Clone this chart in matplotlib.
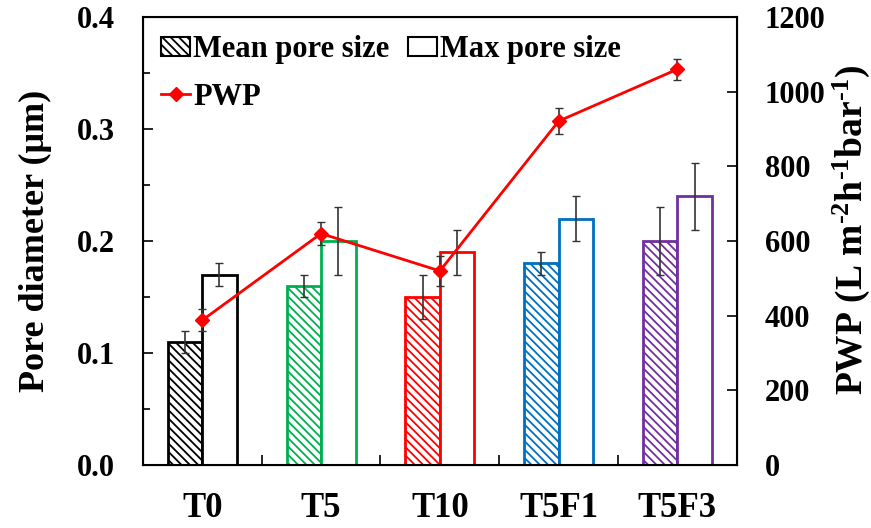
import numpy as np
import matplotlib
matplotlib.use("Agg")
import matplotlib.pyplot as plt
from matplotlib.patches import Patch
from matplotlib.lines import Line2D
from matplotlib.ticker import MultipleLocator, FormatStrFormatter

plt.rcParams['font.family'] = ['Liberation Serif', 'DejaVu Serif']
plt.rcParams['font.weight'] = 'bold'
plt.rcParams['axes.labelweight'] = 'bold'
plt.rcParams['hatch.linewidth'] = 1.3
plt.rcParams['mathtext.fontset'] = 'custom'
plt.rcParams['mathtext.rm'] = 'Liberation Serif:bold'
plt.rcParams['mathtext.bf'] = 'Liberation Serif:bold'
plt.rcParams['mathtext.default'] = 'bf'

samples = ['T0', 'T5', 'T10', 'T5F1', 'T5F3']
colors = ['#000000', '#00b050', '#ff0000', '#0070c0', '#7030a0']
mean_size = [0.11, 0.16, 0.15, 0.18, 0.20]
mean_err = [0.01, 0.01, 0.02, 0.01, 0.03]
max_size = [0.17, 0.20, 0.19, 0.22, 0.24]
max_err = [0.01, 0.03, 0.02, 0.02, 0.03]
pwp = [388, 620, 520, 921, 1060]
pwp_err = [30, 30, 40, 35, 28]

fig = plt.figure(figsize=(8.71, 5.28), dpi=100)
ax = fig.add_axes([0.164, 0.119, 0.682, 0.849])
x = np.arange(len(samples))
w = 0.29

ax.bar(x - w/2, mean_size, w, facecolor='white', edgecolor=colors, hatch='\\\\\\\\', linewidth=2)
ax.bar(x + w/2, max_size, w, facecolor='white', edgecolor=colors, linewidth=2)
ax.errorbar(x - w/2, mean_size, yerr=mean_err, fmt='none', ecolor='#333333', elinewidth=1.2, capsize=3)
ax.errorbar(x + w/2, max_size, yerr=max_err, fmt='none', ecolor='#333333', elinewidth=1.2, capsize=3)

ax.set_xlim(-0.5, 4.5)
ax.set_ylim(0, 0.4)
ax.yaxis.set_major_locator(MultipleLocator(0.1))
ax.yaxis.set_minor_locator(MultipleLocator(0.05))
ax.yaxis.set_major_formatter(FormatStrFormatter('%.1f'))
ax.set_xticks(x + 0.5, minor=False)
ax.set_xticklabels([])
ax.set_xticks(x, minor=True)
ax.set_xticklabels(samples, minor=True, fontsize=25)
ax.tick_params(axis='x', which='minor', length=0, pad=19)
ax.tick_params(axis='x', which='major', direction='in', length=7, width=1.2)
ax.tick_params(axis='y', which='major', direction='in', length=7, width=1.2, labelsize=22, pad=20)
ax.tick_params(axis='y', which='minor', direction='in', length=5, width=1.2)
ax.set_ylabel('Pore diameter (μm)', fontsize=26, labelpad=18)
for s in ax.spines.values():
    s.set_linewidth(1.5)

ax2 = ax.twinx()
ax2.errorbar(x, pwp, yerr=pwp_err, fmt='none', ecolor='#333333', elinewidth=1.2, capsize=3, zorder=2)
ax2.plot(x, pwp, color='#ff0000', lw=2, marker='D', markersize=7, zorder=3)
ax2.set_ylim(0, 1200)
ax2.yaxis.set_major_locator(MultipleLocator(200))
ax2.tick_params(axis='y', direction='in', length=7, width=1.2, labelsize=22, pad=20)
ax2.set_ylabel('PWP (L m$^{\\text{-}2}$h$^{\\text{-}1}$bar$^{\\text{-}1}$)', fontsize=27, labelpad=4)
ax2.yaxis.label.set_y(0.525)

handles = [Patch(facecolor='white', edgecolor='black', hatch='\\\\\\\\', lw=1.5),
           Line2D([], [], color='#ff0000', lw=2, marker='D', markersize=7),
           Patch(facecolor='white', edgecolor='black', lw=1.5)]
labels = ['Mean pore size', 'PWP', 'Max pore size']
ax.legend(handles, labels, ncol=2, loc='upper left', frameon=False, fontsize=22,
          handlelength=0.95, handleheight=0.6, handletextpad=0.1, columnspacing=0.6,
          labelspacing=0.6, borderaxespad=0.2, bbox_to_anchor=(0.0, 1.0))

fig.savefig('out.png', dpi=100)
